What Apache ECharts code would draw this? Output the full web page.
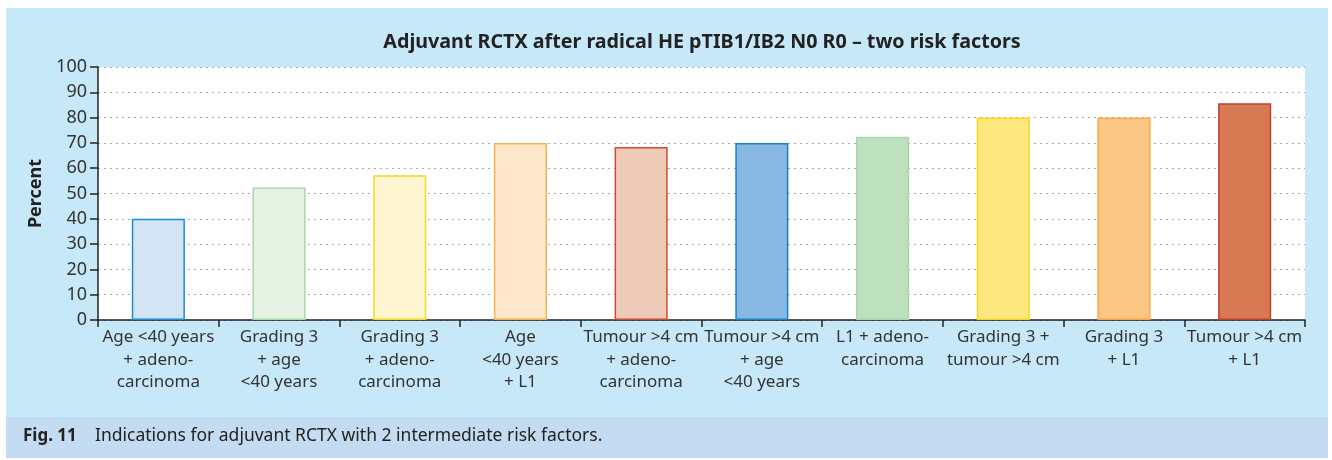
<!DOCTYPE html>
<html>
<head>
<meta charset="utf-8">
<script src="https://cdn.jsdelivr.net/npm/echarts@6/dist/echarts.min.js"></script>
<style>
  html, body { margin: 0; padding: 0; background: #fff; }
  #main { width: 1332px; height: 460px; }
</style>
</head>
<body>
<div id="main"></div>
<script>
// chart data
var categories = [
  'Age <40 years\n+ adeno-\ncarcinoma',
  'Grading 3\n+ age\n<40 years',
  'Grading 3\n+ adeno-\ncarcinoma',
  'Age\n<40 years\n+ L1',
  'Tumour >4 cm\n+ adeno-\ncarcinoma',
  'Tumour >4 cm\n+ age\n<40 years',
  'L1 + adeno-\ncarcinoma',
  'Grading 3 +\ntumour >4 cm',
  'Grading 3\n+ L1',
  'Tumour >4 cm\n+ L1'
];
var percent = [40, 52.4, 57.2, 70, 68.4, 70, 72.4, 80, 80, 85.7];
var fillColors = ['#d3e4f5', '#e6f2e4', '#fef6d0', '#fee8cc', '#edcbb8',
                  '#86b8e2', '#bde0be', '#fde880', '#fbc583', '#d77a54'];
var borderColors = ['#1a8fd4', '#a8d8a8', '#f8d820', '#f8b050', '#d04a30',
                    '#1a80c8', '#a8d8a8', '#f8d820', '#f8a840', '#c04030'];

var font = '"Noto Sans", "Open Sans", sans-serif';

var chart = echarts.init(document.getElementById('main'));
chart.setOption({
  backgroundColor: '#fff',
  animation: false,
  graphic: [
    { type: 'rect', z: -10, shape: { x: 6, y: 8, width: 1322, height: 409 }, style: { fill: '#c7e8f8' } },
    { type: 'rect', z: -10, shape: { x: 6, y: 417, width: 1322, height: 41 }, style: { fill: '#c4dcf1' } },
    {
      // title, centred over the plot area
      type: 'text', x: 702, y: 42, z: 10,
      style: {
        text: 'Adjuvant RCTX after radical HE pTIB1/IB2 N0 R0 \u2013 two risk factors',
        align: 'center', verticalAlign: 'middle',
        font: 'bold 19.7px ' + font, fill: '#222'
      }
    },
    {
      type: 'text', left: 23, top: 427, z: 10,
      style: {
        text: '{b|Fig. 11}    Indications for adjuvant RCTX with 2 intermediate risk factors.',
        font: '17.5px ' + font, fill: '#222',
        rich: { b: { fontWeight: 'bold', fontSize: 17, fontFamily: font, fill: '#222' } }
      }
    }
  ],
  grid: {
    left: 98, right: 27, top: 67, bottom: 140,
    show: true, backgroundColor: '#fff', borderWidth: 0
  },
  xAxis: {
    type: 'category',
    data: categories,
    axisLine: { lineStyle: { color: '#222', width: 1.5 } },
    axisTick: { show: true, length: 7, lineStyle: { color: '#222', width: 1.5 } },
    axisLabel: {
      interval: 0, color: '#333', fontFamily: font, fontSize: 17,
      lineHeight: 22.5, margin: 6
    }
  },
  yAxis: {
    type: 'value',
    min: 0, max: 100, interval: 10,
    name: 'Percent',
    nameLocation: 'middle',
    nameGap: 50,
    nameTextStyle: { fontFamily: font, fontSize: 18, fontWeight: 'bold', color: '#222' },
    axisLine: { show: true, lineStyle: { color: '#222', width: 1.5 } },
    axisTick: { show: true, length: 8, lineStyle: { color: '#222', width: 1.5 } },
    axisLabel: { color: '#333', fontFamily: font, fontSize: 18, margin: 11 },
    splitLine: { lineStyle: { color: '#aaa', type: [2, 4], width: 1.2 } }
  },
  series: [{
    type: 'bar',
    barWidth: '44%',
    data: percent.map(function (v, i) {
      return {
        value: v,
        itemStyle: { color: fillColors[i], borderColor: borderColors[i], borderWidth: 1.5 }
      };
    })
  }]
});
</script>
</body>
</html>
